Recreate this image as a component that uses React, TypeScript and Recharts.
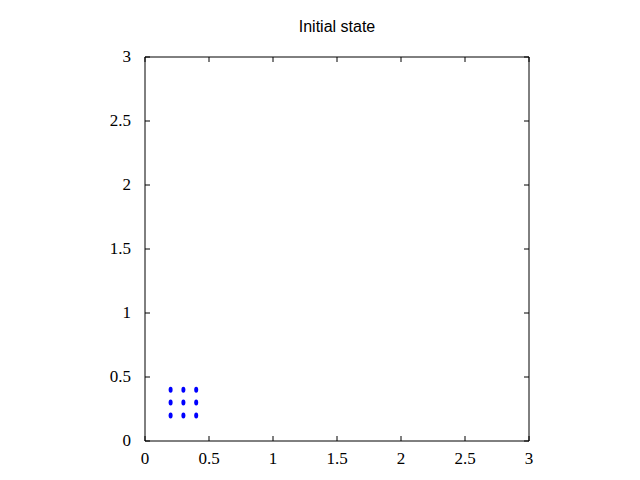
import React from "react";
import { ScatterChart, Scatter, XAxis, YAxis } from "recharts";

const pointX = [0.2, 0.3, 0.4, 0.2, 0.3, 0.4, 0.2, 0.3, 0.4];
const pointY = [0.2, 0.2, 0.2, 0.3, 0.3, 0.3, 0.4, 0.4, 0.4];
const axisTicks = [0, 0.5, 1, 1.5, 2, 2.5, 3];
const title = "Initial state";

const data = pointX.map((x, i) => ({ x, y: pointY[i] }));

const TIC = 5;
const labelFont = { fontFamily: "'Liberation Serif', 'DejaVu Serif', serif", fontSize: 17, fill: "#000" };

function BottomTick({ x, y, payload }: any) {
  return (
    <g>
      <line x1={x} y1={y} x2={x} y2={y - TIC} stroke="#000" />
      <text x={x} y={y + 23} textAnchor="middle" {...labelFont}>
        {String(payload.value)}
      </text>
    </g>
  );
}

function TopTick({ x, y }: any) {
  return <line x1={x} y1={y} x2={x} y2={y + TIC} stroke="#000" />;
}

function LeftTick({ x, y, payload }: any) {
  return (
    <g>
      <line x1={x} y1={y} x2={x + TIC} y2={y} stroke="#000" />
      <text x={x - 14} y={y + 5} textAnchor="end" {...labelFont}>
        {String(payload.value)}
      </text>
    </g>
  );
}

function RightTick({ x, y }: any) {
  return <line x1={x} y1={y} x2={x - TIC} y2={y} stroke="#000" />;
}

function Dot({ cx, cy }: any) {
  return <ellipse cx={cx} cy={cy} rx={2} ry={3} fill="#0000ff" />;
}

export default function App() {
  const common = {
    type: "number" as const,
    domain: [0, 3],
    ticks: axisTicks,
    interval: 0 as const,
    tickSize: 0,
    tickMargin: 0,
    tickLine: false,
    axisLine: { stroke: "#000" },
    allowDataOverflow: true,
  };
  return (
    <div style={{ position: "absolute", left: 0, top: 0, width: 640, height: 480, background: "#fff" }}>
      <div
        style={{
          position: "absolute",
          left: 145,
          width: 384,
          top: 18,
          textAlign: "center",
          fontFamily: "'Liberation Sans', Arial, sans-serif",
          fontSize: 16,
          color: "#000",
        }}
      >
        {title}
      </div>
      <ScatterChart width={640} height={480} margin={{ top: 47, right: 101, bottom: 9, left: 105 }}>
        <XAxis {...common} xAxisId="b" dataKey="x" orientation="bottom" height={30} tick={<BottomTick />} />
        <XAxis {...common} xAxisId="t" dataKey="x" orientation="top" height={10} tick={<TopTick />} />
        <YAxis {...common} yAxisId="l" dataKey="y" orientation="left" width={40} tick={<LeftTick />} />
        <YAxis {...common} yAxisId="r" dataKey="y" orientation="right" width={10} tick={<RightTick />} />
        <Scatter data={data} xAxisId="b" yAxisId="l" shape={<Dot />} isAnimationActive={false} />
      </ScatterChart>
    </div>
  );
}
